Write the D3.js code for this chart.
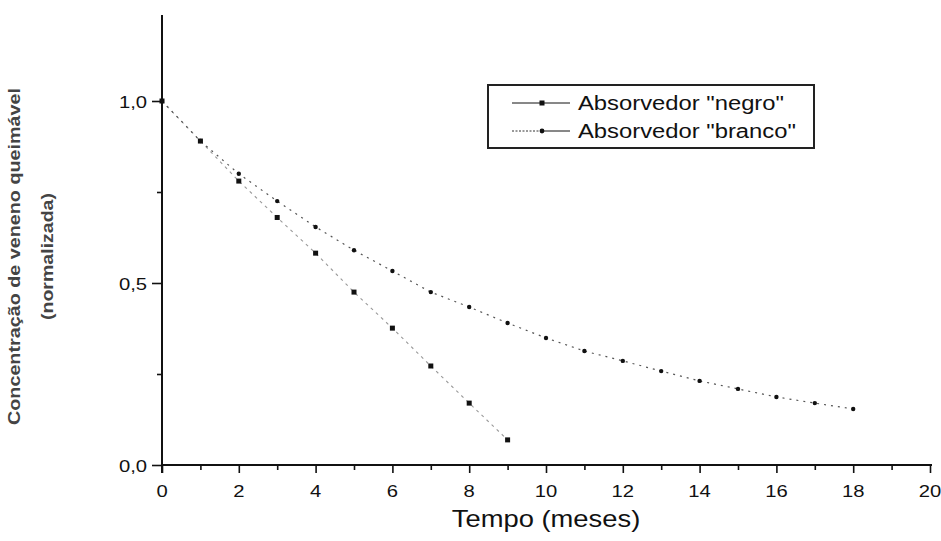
<!DOCTYPE html>
<html>
<head>
<meta charset="utf-8">
<script src="https://cdn.jsdelivr.net/npm/d3@7/dist/d3.min.js"></script>
<style>
  html, body { margin: 0; padding: 0; background: #fff; }
  svg { display: block; }
  text { font-family: "Liberation Sans", Arial, sans-serif; }
</style>
</head>
<body>
<svg id="chart" width="941" height="541"></svg>
<script>
// ---- data ----
const tempoNegro  = [0, 1, 2, 3, 4, 5, 6, 7, 8, 9];
const valoresNegro = [1.0, 0.89, 0.78, 0.68, 0.582, 0.475, 0.376, 0.272, 0.170, 0.069];
const tempoBranco = [0, 1, 2, 3, 4, 5, 6, 7, 8, 9, 10, 11, 12, 13, 14, 15, 16, 17, 18];
const valoresBranco = [1.0, 0.89, 0.80, 0.725, 0.654, 0.59, 0.533, 0.475, 0.434, 0.39, 0.349, 0.313, 0.286, 0.258, 0.231, 0.209, 0.187, 0.170, 0.154];
const xMajorTicks = [0, 2, 4, 6, 8, 10, 12, 14, 16, 18, 20];
const xMinorTicks = [1, 3, 5, 7, 9, 11, 13, 15, 17, 19];
const yMajorTicks = [0, 0.5, 1.0];
const yMinorTicks = [0.25, 0.75];
const legendLabels = ['Absorvedor "negro"', 'Absorvedor "branco"'];
const xTitle = "Tempo (meses)";
const yTitle1 = "Concentração de veneno queimável";
const yTitle2 = "(normalizada)";

// ---- layout ----
const svg = d3.select("#chart");
const x = d3.scaleLinear().domain([0, 20]).range([162, 930]);
const y = d3.scaleLinear().domain([0, 1.0]).range([465, 101]);
const yTop = 15;
const SX = 1.19; // horizontal stretch of the original scan text

function stext(parent, px, py, str, size, anchor, opts = {}) {
  const g = parent.append("g").attr("transform", `translate(${px},${py}) scale(${SX},1)`);
  const t = g.append("text").attr("x", 0).attr("y", 0)
    .attr("font-size", size).attr("text-anchor", anchor)
    .attr("fill", opts.fill || "#111")
    .attr("font-weight", opts.weight || "normal")
    .text(str);
  return t;
}

const fmt = v => d3.format(".1f")(v).replace(".", ",");

// ---- lines ----
const lineNegro = d3.line().x((d, i) => x(tempoNegro[i])).y(d => y(d));
const lineBranco = d3.line().x((d, i) => x(tempoBranco[i])).y(d => y(d));

svg.append("path").datum(valoresNegro).attr("d", lineNegro)
  .attr("fill", "none").attr("stroke", "#999").attr("stroke-width", 1.1)
  .attr("stroke-dasharray", "3,4");
svg.append("path").datum(valoresBranco).attr("d", lineBranco)
  .attr("fill", "none").attr("stroke", "#555").attr("stroke-width", 1.2)
  .attr("stroke-dasharray", "2,5");

// ---- markers ----
svg.append("g").selectAll("rect").data(valoresNegro).join("rect")
  .attr("x", (d, i) => x(tempoNegro[i]) - 2.5)
  .attr("y", d => y(d) - 2.5)
  .attr("width", 5).attr("height", 5).attr("fill", "#111");
svg.append("g").selectAll("circle").data(valoresBranco).join("circle")
  .attr("cx", (d, i) => x(tempoBranco[i]))
  .attr("cy", d => y(d))
  .attr("r", 2.2).attr("fill", "#111");

// ---- axes ----
const xAxis = d3.axisBottom(x).tickValues(xMajorTicks).tickSize(8).tickFormat("");
const xAxisMinor = d3.axisBottom(x).tickValues(xMinorTicks).tickSize(5).tickFormat("");
const gx = svg.append("g").attr("transform", `translate(0,${y(0)})`).call(xAxis);
svg.append("g").attr("transform", `translate(0,${y(0)})`).call(xAxisMinor).select(".domain").remove();
gx.select(".domain").attr("d", `M${x(0)},0H${x(20) + 2}`).attr("stroke", "#111").attr("stroke-width", 2);

const yAxis = d3.axisLeft(y).tickValues(yMajorTicks).tickSize(10).tickFormat("");
const yAxisMinor = d3.axisLeft(y).tickValues(yMinorTicks).tickSize(5).tickFormat("");
const gy = svg.append("g").attr("transform", `translate(${x(0)},0)`).call(yAxis);
svg.append("g").attr("transform", `translate(${x(0)},0)`).call(yAxisMinor).select(".domain").remove();
gy.select(".domain").attr("d", `M0,${y(0) + 8}V${yTop}`).attr("stroke", "#111").attr("stroke-width", 2);
svg.selectAll(".tick line").attr("stroke", "#111").attr("stroke-width", 1.6);

// tick labels
xMajorTicks.forEach(v => stext(svg, x(v), 497, String(v), 17, "middle"));
yMajorTicks.forEach(v => stext(svg, 147, y(v) + 6.5, fmt(v), 17, "end"));

// ---- titles ----
stext(svg, x(10), 527, xTitle, 23, "middle");

const yt = svg.append("g").attr("transform", "translate(20,256.5) rotate(-90)");
yt.append("text").attr("text-anchor", "middle").attr("font-size", 17)
  .attr("font-weight", "bold").attr("fill", "#444")
  .attr("textLength", 337).attr("lengthAdjust", "spacingAndGlyphs")
  .text(yTitle1);
const yt2 = svg.append("g").attr("transform", "translate(53,256.5) rotate(-90)");
yt2.append("text").attr("text-anchor", "middle").attr("font-size", 17)
  .attr("font-weight", "bold").attr("fill", "#444")
  .attr("textLength", 127).attr("lengthAdjust", "spacingAndGlyphs")
  .text(yTitle2);

// ---- legend ----
const lg = svg.append("g");
lg.append("rect").attr("x", 488).attr("y", 85).attr("width", 326).attr("height", 63)
  .attr("fill", "#fff").attr("stroke", "#222").attr("stroke-width", 2);
const rows = [103, 131];
// negro
lg.append("line").attr("x1", 512).attr("x2", 570).attr("y1", rows[0]).attr("y2", rows[0])
  .attr("stroke", "#111").attr("stroke-width", 1);
lg.append("rect").attr("x", 539.5).attr("y", rows[0] - 2.5).attr("width", 5).attr("height", 5).attr("fill", "#111");
// branco
lg.append("line").attr("x1", 512).attr("x2", 540).attr("y1", rows[1]).attr("y2", rows[1])
  .attr("stroke", "#333").attr("stroke-width", 1).attr("stroke-dasharray", "2,1.5");
lg.append("line").attr("x1", 542).attr("x2", 570).attr("y1", rows[1]).attr("y2", rows[1])
  .attr("stroke", "#111").attr("stroke-width", 1);
lg.append("circle").attr("cx", 542).attr("cy", rows[1]).attr("r", 2.4).attr("fill", "#111");
legendLabels.forEach((l, i) => stext(lg, 578, rows[i] + 7, l, 20, "start"));
</script>
</body>
</html>
